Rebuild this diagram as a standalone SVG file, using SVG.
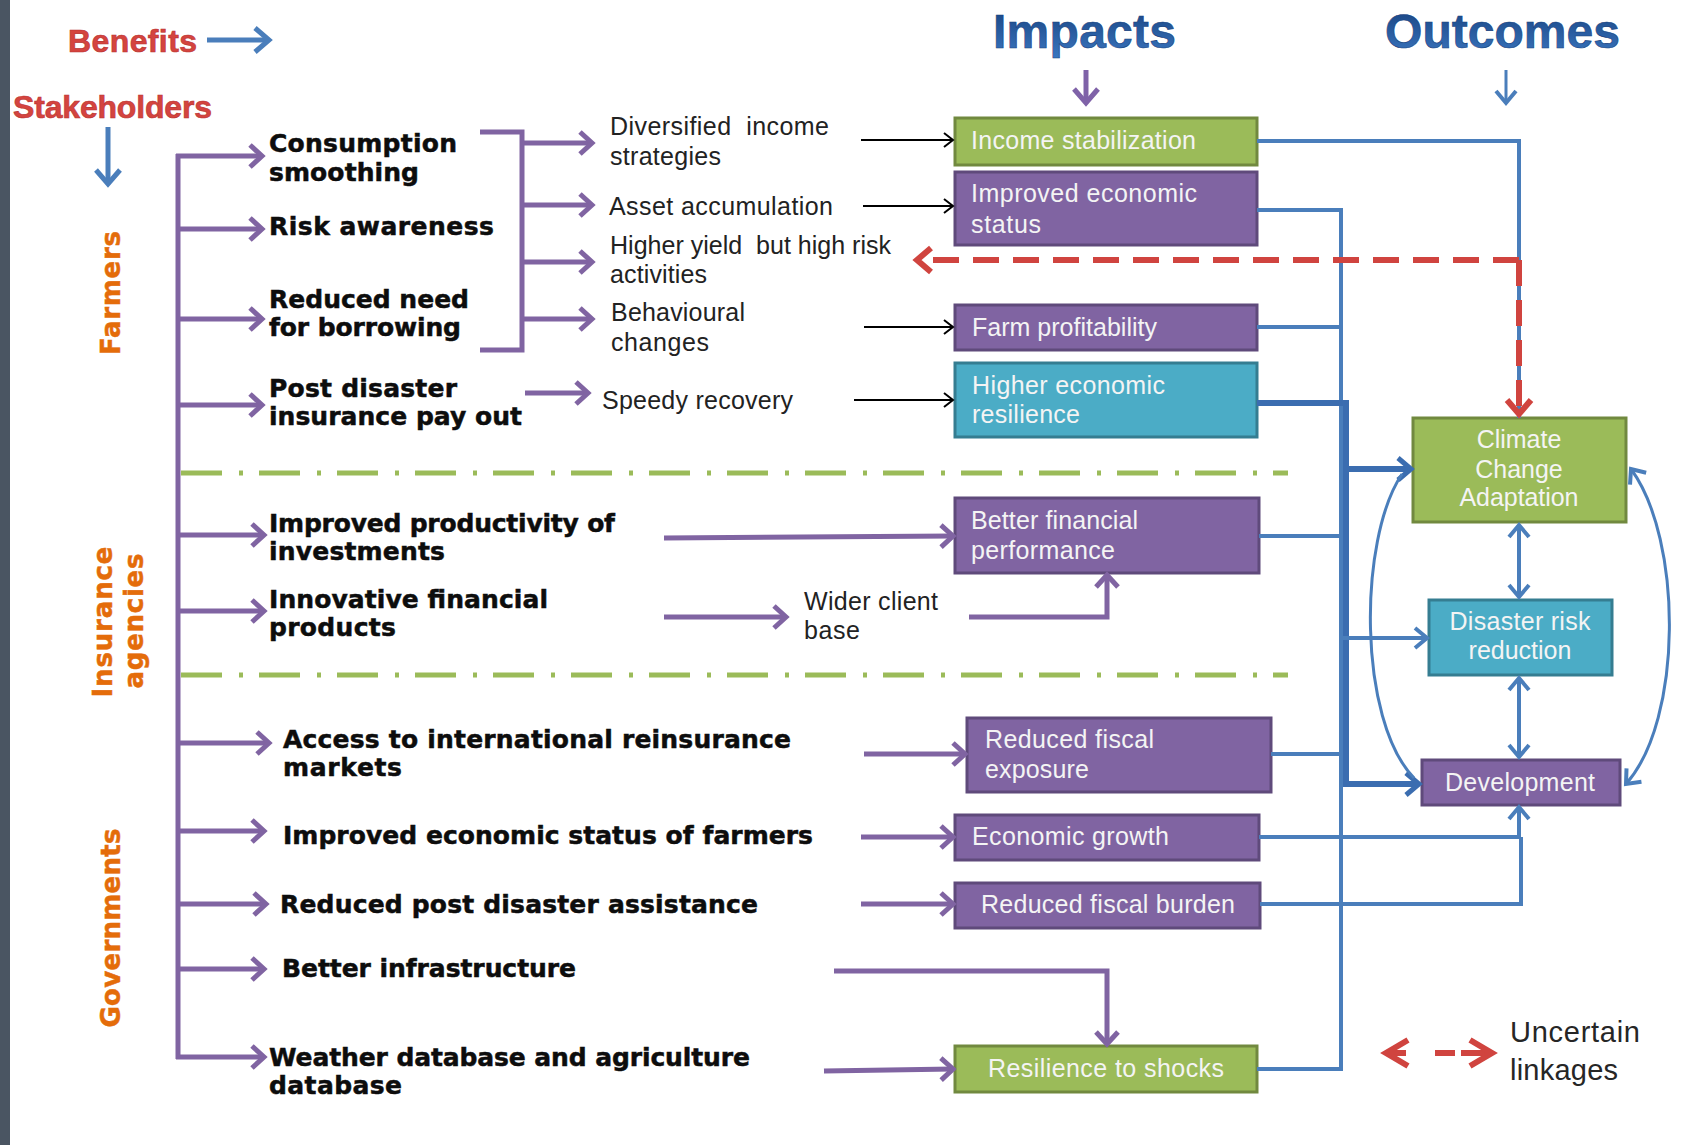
<svg xmlns="http://www.w3.org/2000/svg" width="1688" height="1145" viewBox="0 0 1688 1145">
<defs>
<style>
.b{font-family:"DejaVu Sans","Liberation Sans",sans-serif;font-weight:bold;font-size:25px;fill:#0d0d0d;stroke:#0d0d0d;stroke-width:0.5}
.r{font-family:"Liberation Sans",Arial,sans-serif;font-size:25px;fill:#222;white-space:pre}
.w{font-family:"Liberation Sans",Arial,sans-serif;font-size:25px;fill:#f4f4f4}
.wc{font-family:"Liberation Sans",Arial,sans-serif;font-size:25px;fill:#f4f4f4;text-anchor:middle}
.lab{font-family:"DejaVu Sans","Liberation Sans",sans-serif;font-weight:bold;font-size:26px;fill:#e46c0a;text-anchor:middle;stroke:#e46c0a;stroke-width:0.5}
.red{font-family:"Liberation Sans",Arial,sans-serif;font-weight:bold;font-size:32px;fill:#d4443f;stroke:#b8322f;stroke-width:0.6}
.ttl{font-family:"Liberation Sans",Arial,sans-serif;font-weight:bold;font-size:48px;fill:url(#tg);stroke:#173f7e;stroke-width:0.6}
.pl{fill:none;stroke:#8064a2;stroke-width:5}
.bl{fill:none;stroke:#4a7ebb;stroke-width:4}
.bla{fill:none;stroke:#4a7ebb;stroke-width:3}
.blt{fill:none;stroke:#3b6db0;stroke-width:6}
.bk{fill:none;stroke:#000;stroke-width:2}
.rd{fill:none;stroke:#d0443f;stroke-width:6;stroke-dasharray:26 14}
.sep{fill:none;stroke:#9bbb59;stroke-width:5;stroke-dasharray:41 17 4 16}
.pu{fill:#8064a2;stroke:#5f4a7b;stroke-width:3}
.gr{fill:#9bbb59;stroke:#71893f;stroke-width:3}
.cy{fill:#4bacc6;stroke:#357d91;stroke-width:3}
</style>
<linearGradient id="tg" x1="0" y1="0" x2="0" y2="1">
<stop offset="0" stop-color="#17427f"/>
<stop offset="1" stop-color="#3a76c0"/>
</linearGradient>
<marker id="ap" markerUnits="userSpaceOnUse" markerWidth="22" markerHeight="28" refX="15" refY="14" orient="auto">
<path d="M3,3 L15,14 L3,25" fill="none" stroke="#8064a2" stroke-width="5"/>
</marker>
<marker id="ak" markerUnits="userSpaceOnUse" markerWidth="14" markerHeight="18" refX="11" refY="9" orient="auto">
<path d="M2,2 L11,9 L2,16" fill="none" stroke="#000" stroke-width="2"/>
</marker>
<marker id="ab" markerUnits="userSpaceOnUse" markerWidth="20" markerHeight="26" refX="15" refY="13" orient="auto-start-reverse">
<path d="M3,3 L15,13 L3,23" fill="none" stroke="#4a7ebb" stroke-width="4"/>
</marker>
<marker id="abt" markerUnits="userSpaceOnUse" markerWidth="22" markerHeight="28" refX="16" refY="14" orient="auto">
<path d="M3,3 L16,14 L3,25" fill="none" stroke="#3b6db0" stroke-width="5"/>
</marker>
<marker id="ar" markerUnits="userSpaceOnUse" markerWidth="22" markerHeight="30" refX="17" refY="15" orient="auto">
<path d="M3,3 L17,15 L3,27" fill="none" stroke="#d0443f" stroke-width="6"/>
</marker>
<marker id="abig" markerUnits="userSpaceOnUse" markerWidth="22" markerHeight="30" refX="17" refY="15" orient="auto">
<path d="M3,3 L17,15 L3,27" fill="none" stroke="#4a7ebb" stroke-width="5"/>
</marker>
<marker id="apbig" markerUnits="userSpaceOnUse" markerWidth="22" markerHeight="30" refX="17" refY="15" orient="auto">
<path d="M3,3 L17,15 L3,27" fill="none" stroke="#7f62a8" stroke-width="5"/>
</marker>
</defs>

<rect x="0" y="0" width="1688" height="1145" fill="#ffffff"/>
<rect x="0" y="0" width="10" height="1145" fill="#4a5562"/>

<g id="headers">
<text class="red" x="68" y="52" textLength="129">Benefits</text>
<text class="red" x="13" y="118" textLength="199">Stakeholders</text>
<text class="ttl" x="993" y="48" textLength="183">Impacts</text>
<text class="ttl" x="1385" y="48" textLength="235">Outcomes</text>
<text class="lab" transform="translate(120,293) rotate(-90)" textLength="124">Farmers</text>
<text class="lab" transform="translate(112,622) rotate(-90)" textLength="151">Insurance</text>
<text class="lab" transform="translate(143,621) rotate(-90)" textLength="135">agencies</text>
<text class="lab" transform="translate(120,928) rotate(-90)" textLength="199">Governments</text>
</g>

<g id="separators">
<path class="sep" d="M181,473 H1288"/>
<path class="sep" d="M181,675 H1288"/>
</g>

<g id="benefits-farmers">
<text class="b" x="269" y="152" textLength="188">Consumption</text>
<text class="b" x="269" y="181" textLength="150">smoothing</text>
<text class="b" x="269" y="235" textLength="225">Risk awareness</text>
<text class="b" x="269" y="308" textLength="200">Reduced need</text>
<text class="b" x="269" y="336" textLength="192">for borrowing</text>
<text class="b" x="269" y="397" textLength="188">Post disaster</text>
<text class="b" x="269" y="425" textLength="253">insurance pay out</text>
</g>
<g id="benefits-insurance">
<text class="b" x="269" y="532" textLength="346">Improved productivity of</text>
<text class="b" x="269" y="560" textLength="176">investments</text>
<text class="b" x="269" y="608" textLength="279">Innovative financial</text>
<text class="b" x="269" y="636" textLength="127">products</text>
</g>
<g id="benefits-governments">
<text class="b" x="283" y="748" textLength="508">Access to international reinsurance</text>
<text class="b" x="283" y="776" textLength="119">markets</text>
<text class="b" x="283" y="844" textLength="530">Improved economic status of farmers</text>
<text class="b" x="280" y="913" textLength="478">Reduced post disaster assistance</text>
<text class="b" x="282" y="977" textLength="294">Better infrastructure</text>
<text class="b" x="269" y="1066" textLength="481">Weather database and agriculture</text>
<text class="b" x="269" y="1094" textLength="133">database</text>
</g>

<g id="intermediate">
<text class="r" x="610" y="135" textLength="219" xml:space="preserve">Diversified  income</text>
<text class="r" x="610" y="165" textLength="111">strategies</text>
<text class="r" x="609" y="215" textLength="224">Asset accumulation</text>
<text class="r" x="610" y="254" textLength="281" xml:space="preserve">Higher yield  but high risk</text>
<text class="r" x="610" y="283" textLength="97">activities</text>
<text class="r" x="611" y="321" textLength="134">Behavioural</text>
<text class="r" x="611" y="351" textLength="98">changes</text>
<text class="r" x="602" y="409" textLength="191">Speedy recovery</text>
<text class="r" x="804" y="610" textLength="134">Wider client</text>
<text class="r" x="804" y="639" textLength="56">base</text>
</g>

<g id="impact-income">
<rect class="gr" x="955" y="118" width="302" height="47"/>
<text class="w" x="971" y="149" textLength="225">Income stabilization</text>
</g>
<g id="impact-economic-status">
<rect class="pu" x="955" y="172" width="302" height="73"/>
<text class="w" x="971" y="202" textLength="226">Improved economic</text>
<text class="w" x="971" y="233" textLength="70">status</text>
</g>
<g id="impact-farm">
<rect class="pu" x="955" y="305" width="302" height="45"/>
<text class="w" x="972" y="336" textLength="185">Farm profitability</text>
</g>
<g id="impact-resilience">
<rect class="cy" x="955" y="363" width="302" height="74"/>
<text class="w" x="972" y="394" textLength="193">Higher economic</text>
<text class="w" x="972" y="423" textLength="108">resilience</text>
</g>
<g id="impact-financial">
<rect class="pu" x="955" y="498" width="304" height="75"/>
<text class="w" x="971" y="529" textLength="167">Better financial</text>
<text class="w" x="971" y="559" textLength="144">performance</text>
</g>
<g id="impact-fiscal-exposure">
<rect class="pu" x="967" y="718" width="304" height="74"/>
<text class="w" x="985" y="748" textLength="169">Reduced fiscal</text>
<text class="w" x="985" y="778" textLength="104">exposure</text>
</g>
<g id="impact-growth">
<rect class="pu" x="955" y="815" width="304" height="45"/>
<text class="w" x="972" y="845" textLength="197">Economic growth</text>
</g>
<g id="impact-fiscal-burden">
<rect class="pu" x="955" y="883" width="305" height="45"/>
<text class="w" x="981" y="913" textLength="254">Reduced fiscal burden</text>
</g>
<g id="impact-shocks">
<rect class="gr" x="955" y="1046" width="302" height="46"/>
<text class="w" x="988" y="1077" textLength="236">Resilience to shocks</text>
</g>

<g id="outcome-cca">
<rect class="gr" x="1413" y="418" width="213" height="104"/>
<text class="wc" x="1519" y="448">Climate</text>
<text class="wc" x="1519" y="478">Change</text>
<text class="wc" x="1519" y="506" textLength="119">Adaptation</text>
</g>
<g id="outcome-drr">
<rect class="cy" x="1429" y="600" width="183" height="75"/>
<text class="wc" x="1520" y="630" textLength="141">Disaster risk</text>
<text class="wc" x="1520" y="659">reduction</text>
</g>
<g id="outcome-development">
<rect class="pu" x="1422" y="760" width="198" height="45"/>
<text class="wc" x="1520" y="791" textLength="150">Development</text>
</g>

<g id="legend">
<path d="M1408,1040 L1386,1053 L1408,1066" fill="none" stroke="#d0443f" stroke-width="6"/>
<path d="M1388,1053 H1406" fill="none" stroke="#d0443f" stroke-width="6"/>
<path d="M1435,1053 H1455" fill="none" stroke="#d0443f" stroke-width="6"/>
<path d="M1461,1053 H1488" fill="none" stroke="#d0443f" stroke-width="6"/>
<path d="M1470,1040 L1492,1053 L1470,1066" fill="none" stroke="#d0443f" stroke-width="6"/>
<text x="1510" y="1042" font-family="Liberation Sans, Arial, sans-serif" font-size="29" fill="#262626" textLength="130">Uncertain</text>
<text x="1510" y="1080" font-family="Liberation Sans, Arial, sans-serif" font-size="29" fill="#262626" textLength="108">linkages</text>
</g>

<g id="connectors">
<path d="M207,40 H269" fill="none" stroke="#4a7ebb" stroke-width="5" marker-end="url(#abig)"/>
<path d="M108,127 V184" fill="none" stroke="#4a7ebb" stroke-width="5" marker-end="url(#abig)"/>
<path d="M1086,70 V103" fill="none" stroke="#7f62a8" stroke-width="5" marker-end="url(#apbig)"/>
<path d="M1506,70 V103" class="bla" marker-end="url(#ab)"/>

<path class="pl" d="M178,154 V1059"/>
<path class="pl" d="M176,156 H262" marker-end="url(#ap)"/>
<path class="pl" d="M178,229 H262" marker-end="url(#ap)"/>
<path class="pl" d="M178,319 H262" marker-end="url(#ap)"/>
<path class="pl" d="M178,405 H262" marker-end="url(#ap)"/>
<path class="pl" d="M178,535 H264" marker-end="url(#ap)"/>
<path class="pl" d="M178,611 H264" marker-end="url(#ap)"/>
<path class="pl" d="M178,743 H269" marker-end="url(#ap)"/>
<path class="pl" d="M178,831 H264" marker-end="url(#ap)"/>
<path class="pl" d="M178,904 H266" marker-end="url(#ap)"/>
<path class="pl" d="M178,969 H264" marker-end="url(#ap)"/>
<path class="pl" d="M176,1057 H264" marker-end="url(#ap)"/>

<path class="pl" d="M480,132 H522 V350 H480"/>
<path class="pl" d="M522,143 H592" marker-end="url(#ap)"/>
<path class="pl" d="M522,205 H592" marker-end="url(#ap)"/>
<path class="pl" d="M522,262 H592" marker-end="url(#ap)"/>
<path class="pl" d="M522,319 H592" marker-end="url(#ap)"/>
<path class="pl" d="M525,393 H588" marker-end="url(#ap)"/>

<path class="bk" d="M861,140 H953" marker-end="url(#ak)"/>
<path class="bk" d="M863,206 H953" marker-end="url(#ak)"/>
<path class="bk" d="M864,327 H953" marker-end="url(#ak)"/>
<path class="bk" d="M854,400 H953" marker-end="url(#ak)"/>

<path class="pl" d="M664,538 L953,536" marker-end="url(#ap)"/>
<path class="pl" d="M664,617 H786" marker-end="url(#ap)"/>
<path class="pl" d="M969,617 H1107 V575" marker-end="url(#ap)"/>
<path class="pl" d="M864,754 H965" marker-end="url(#ap)"/>
<path class="pl" d="M861,837 H953" marker-end="url(#ap)"/>
<path class="pl" d="M861,904 H953" marker-end="url(#ap)"/>
<path class="pl" d="M834,971 H1107 V1044" marker-end="url(#ap)"/>
<path class="pl" d="M824,1071 L953,1069" marker-end="url(#ap)"/>

<path class="bl" d="M1257,141 H1519 V418"/>
<path class="bl" d="M1257,210 H1341 V1069 H1257"/>
<path class="bl" d="M1257,327 H1341"/>
<path class="bl" d="M1259,536 H1341"/>
<path class="bl" d="M1271,754 H1341"/>
<path class="blt" d="M1257,403 H1346 V784 H1419" marker-end="url(#abt)"/>
<path class="blt" d="M1346,469 H1411" marker-end="url(#abt)"/>
<path class="bl" d="M1341,638 H1427" marker-end="url(#ab)"/>
<path class="bl" d="M1259,837 H1519 V807" marker-end="url(#ab)"/>
<path class="bl" d="M1260,904 H1521 V837"/>
<path class="bl" d="M1519,525 V597" marker-start="url(#ab)" marker-end="url(#ab)"/>
<path class="bl" d="M1519,678 V757" marker-start="url(#ab)" marker-end="url(#ab)"/>
<path class="bla" d="M1402,474 C1358,540 1358,720 1414,778"/>
<path class="bla" d="M1631,469 C1683,540 1683,720 1626,784" marker-start="url(#ab)" marker-end="url(#ab)"/>

<path class="rd" d="M1519,260 H917" marker-end="url(#ar)"/>
<path class="rd" d="M1519,260 V414" marker-end="url(#ar)"/>
</g>
</svg>
